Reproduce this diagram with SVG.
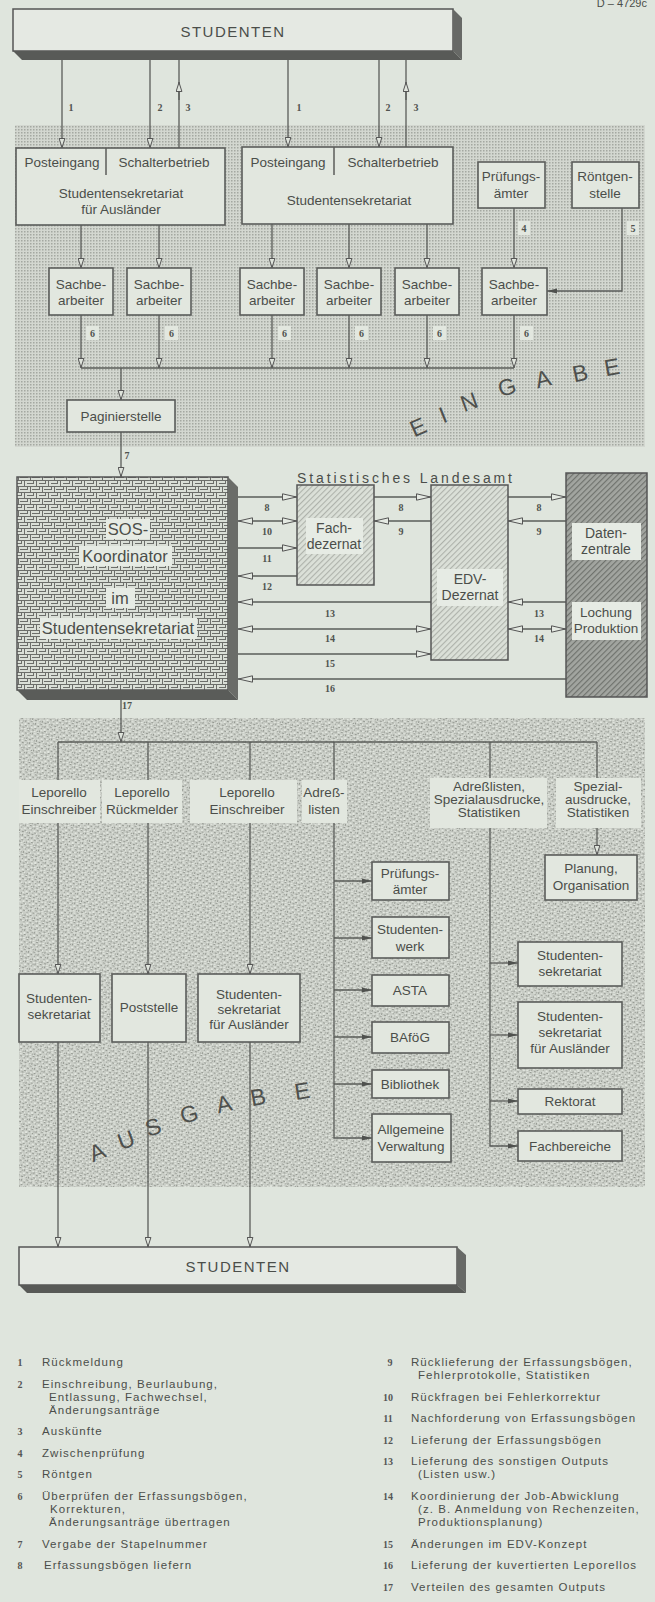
<svg xmlns="http://www.w3.org/2000/svg" width="655" height="1602" viewBox="0 0 655 1602">
<defs>
<style>
text{font-family:"Liberation Sans",Arial,sans-serif;fill:#4b4e4a}
.t{font-size:13.5px;text-anchor:middle}
.tm{font-size:14px;text-anchor:middle}
.big{font-size:16.5px;text-anchor:middle}
.st{font-size:15px;letter-spacing:1.5px;text-anchor:middle}
.n{font-family:"Liberation Serif",serif;font-weight:bold;font-size:10px;text-anchor:middle;fill:#50534f}
.leg{font-size:11.5px;letter-spacing:1.05px}
.ln{font-family:"Liberation Serif",serif;font-weight:bold;font-size:10px;text-anchor:middle;fill:#555}
.huge{font-size:23px;text-anchor:middle;fill:#4e504d}
.bx{fill:#e2e7df;stroke:#5b5d5a;stroke-width:1.6}
.lb{fill:#e2e7df}
.wb{fill:#e6ebe4}
.c{fill:none;stroke:#5a5c59;stroke-width:1.3}
.ca{fill:none;stroke:#5a5c59;stroke-width:1.3;marker-end:url(#a)}
.cb{fill:none;stroke:#5a5c59;stroke-width:1.3;marker-end:url(#b)}
.cbb{fill:none;stroke:#5a5c59;stroke-width:1.3;marker-start:url(#b);marker-end:url(#b)}
.cc{fill:none;stroke:#5a5c59;stroke-width:1.3;marker-end:url(#k)}
</style>
<pattern id="dots" width="3" height="3" patternUnits="userSpaceOnUse"><rect width="3" height="3" fill="#d3d7d0"/><rect width="1.5" height="1.5" fill="#a4a8a1"/></pattern>
<pattern id="stip" width="10" height="10" patternUnits="userSpaceOnUse" patternTransform="rotate(17)">
<rect width="10" height="10" fill="#c9cdc6"/>
<path d="M0 0h2v1h-2zM5 1h1v2h-1zM8 3h2v1h-2zM2 4h1v1h-1zM6 6h2v1h-2zM1 7h1v2h-1zM4 8h2v1h-2zM9 8h1v1h-1zM3 2h1v1h-1z" fill="#959992"/>
<path d="M3 0h2v1h-2zM7 1h2v1h-2zM0 3h2v1h-2zM5 4h2v2h-2zM2 6h2v1h-2zM8 6h1v2h-1zM6 9h2v1h-2zM0 9h2v1h-2z" fill="#e2e6df"/>
</pattern>
<pattern id="maze" width="12" height="12" patternUnits="userSpaceOnUse">
<rect width="12" height="12" fill="#dadfd7"/>
<path d="M0 0.5H12M0 6.5H12M0.5 0V6M6.5 6V12M3 3.5H10M8 9.5H12M0 9.5H4M9.5 1V3.5M3.5 7V9.5" stroke="#6c6e6a" stroke-width="1" fill="none"/>
</pattern>
<pattern id="hatch" width="4" height="4" patternUnits="userSpaceOnUse" patternTransform="rotate(45)">
<rect width="4" height="4" fill="#dbe0d8"/><line x1="0.5" y1="0" x2="0.5" y2="4" stroke="#aeb2ab" stroke-width="1.2"/>
</pattern>
<pattern id="dhatch" width="4" height="4" patternUnits="userSpaceOnUse" patternTransform="rotate(45)">
<rect width="4" height="4" fill="#a2a5a0"/><line x1="0.5" y1="0" x2="0.5" y2="4" stroke="#6f726d" stroke-width="1.3"/>
</pattern>
<marker id="a" viewBox="0 0 10 7" refX="10" refY="3.5" markerWidth="10" markerHeight="7" markerUnits="userSpaceOnUse" orient="auto"><path d="M0.5,0.6 L9.6,3.5 L0.5,6.4 Z" fill="#dfe4dc" stroke="#555" stroke-width="1"/></marker>
<marker id="b" viewBox="0 0 15 8" refX="15" refY="4" markerWidth="15" markerHeight="8" markerUnits="userSpaceOnUse" orient="auto-start-reverse"><path d="M0.5,0.8 L14.5,4 L0.5,7.2 Z" fill="#e4e9e2" stroke="#555" stroke-width="1"/></marker>
<marker id="k" viewBox="0 0 10 6" refX="10" refY="3" markerWidth="10" markerHeight="6" markerUnits="userSpaceOnUse" orient="auto"><path d="M0,0.5 L10,3 L0,5.5 Z" fill="#4f514e"/></marker>
</defs>

<rect width="655" height="1602" fill="#dfe5dd"/>
<text x="647" y="7" font-size="11" text-anchor="end">D – 4729c</text>

<rect id="eingabe-bereich" x="15" y="125" width="630" height="322" fill="url(#dots)"/>
<rect id="ausgabe-bereich" x="19" y="718" width="626" height="469" fill="url(#stip)"/>

<g id="connectors">
<path class="ca" d="M62,60V148"/>
<path class="ca" d="M150,60V148"/>
<path class="c" d="M179,148V60"/><path class="ca" d="M179,100V82"/>
<path class="ca" d="M288,60V147"/>
<path class="ca" d="M379,60V147"/>
<path class="c" d="M406,147V60"/><path class="ca" d="M406,100V82"/>
<path class="ca" d="M81,225V268"/>
<path class="ca" d="M159,225V268"/>
<path class="ca" d="M272,224V268"/>
<path class="ca" d="M349,224V268"/>
<path class="ca" d="M427,224V268"/>
<path class="ca" d="M514,208V268"/>
<path class="cc" d="M622,208V291H547"/>
<path class="ca" d="M81,315V368"/>
<path class="ca" d="M159,315V368"/>
<path class="ca" d="M272,315V368"/>
<path class="ca" d="M349,315V368"/>
<path class="ca" d="M427,315V368"/>
<path class="ca" d="M514,315V368"/>
<path class="c" d="M81,368H514"/>
<path class="ca" d="M121,368V400"/>
<path class="ca" d="M121,432V477"/>
<path class="cb" d="M238,497H297"/>
<path class="cbb" d="M238,521H297"/>
<path class="cb" d="M238,548H297"/>
<path class="cb" d="M297,576H238"/>
<path class="cb" d="M374,497H431"/>
<path class="cb" d="M431,521H374"/>
<path class="cb" d="M508,497H566"/>
<path class="cb" d="M566,521H508"/>
<path class="cb" d="M566,602H508"/>
<path class="cbb" d="M508,629H566"/>
<path class="cb" d="M431,602H238"/>
<path class="cbb" d="M238,629H431"/>
<path class="cb" d="M238,654H431"/>
<path class="cb" d="M566,679H238"/>
<path class="ca" d="M121,700V742"/>
<path class="c" d="M58,742H597"/>
<path class="ca" d="M58,742V974"/>
<path class="ca" d="M148,742V974"/>
<path class="ca" d="M250,742V974"/>
<path class="cc" d="M334,742V1138H372"/>
<path class="cc" d="M334,881H372"/>
<path class="cc" d="M334,938H372"/>
<path class="cc" d="M334,990H372"/>
<path class="cc" d="M334,1037H372"/>
<path class="cc" d="M334,1084H372"/>
<path class="cc" d="M490,742V1146H518"/>
<path class="cc" d="M490,963H518"/>
<path class="cc" d="M490,1035H518"/>
<path class="cc" d="M490,1101H518"/>
<path class="ca" d="M597,742V855"/>
<path class="ca" d="M58,1042V1247"/>
<path class="ca" d="M148,1042V1247"/>
<path class="ca" d="M250,1042V1247"/>
</g>

<g id="connector-labels">
<text class="n" x="71" y="111">1</text>
<text class="n" x="160" y="111">2</text>
<text class="n" x="188" y="111">3</text>
<text class="n" x="299" y="111">1</text>
<text class="n" x="388" y="111">2</text>
<text class="n" x="416" y="111">3</text>
<rect class="lb" x="518" y="221" width="12" height="14"/><text class="n" x="524" y="232">4</text>
<rect class="lb" x="627" y="221" width="12" height="14"/><text class="n" x="633" y="232">5</text>
<rect class="lb" x="86" y="326" width="13" height="14"/><text class="n" x="92.5" y="337">6</text>
<rect class="lb" x="165" y="326" width="13" height="14"/><text class="n" x="171.5" y="337">6</text>
<rect class="lb" x="278" y="326" width="13" height="14"/><text class="n" x="284.5" y="337">6</text>
<rect class="lb" x="355" y="326" width="13" height="14"/><text class="n" x="361.5" y="337">6</text>
<rect class="lb" x="433" y="326" width="13" height="14"/><text class="n" x="439.5" y="337">6</text>
<rect class="lb" x="520" y="326" width="13" height="14"/><text class="n" x="526.5" y="337">6</text>
<text class="n" x="127" y="459">7</text>
<text class="n" x="267" y="511">8</text>
<text class="n" x="267" y="535">10</text>
<text class="n" x="267" y="562">11</text>
<text class="n" x="267" y="590">12</text>
<text class="n" x="401" y="511">8</text>
<text class="n" x="401" y="535">9</text>
<text class="n" x="539" y="511">8</text>
<text class="n" x="539" y="535">9</text>
<text class="n" x="539" y="617">13</text>
<text class="n" x="539" y="642">14</text>
<text class="n" x="330" y="617">13</text>
<text class="n" x="330" y="642">14</text>
<text class="n" x="330" y="667">15</text>
<text class="n" x="330" y="692">16</text>
<text class="n" x="127" y="709">17</text>
</g>

<g id="studenten-oben">
<rect x="13" y="9" width="440" height="42" fill="#e5e9e3" stroke="#555" stroke-width="1.5"/>
<polygon points="453,9 462,18 462,60 453,51" fill="#676966"/>
<polygon points="13,51 453,51 462,60 22,60" fill="#585a57"/>
<text class="st" x="233" y="37">STUDENTEN</text>
</g>

<g id="sekretariat-auslaender-eingang">
<rect class="bx" x="16" y="148" width="209" height="77"/>
<line x1="106" y1="148" x2="106" y2="175" stroke="#5b5d5a" stroke-width="1.5"/>
<text class="t" x="62" y="167">Posteingang</text>
<text class="t" x="164" y="167">Schalterbetrieb</text>
<text class="t" x="121" y="198">Studentensekretariat</text>
<text class="t" x="121" y="214">für Ausländer</text>
</g>
<g id="sekretariat-eingang">
<rect class="bx" x="242" y="147" width="211" height="77"/>
<line x1="334" y1="147" x2="334" y2="175" stroke="#5b5d5a" stroke-width="1.5"/>
<text class="t" x="288" y="167">Posteingang</text>
<text class="t" x="393" y="167">Schalterbetrieb</text>
<text class="t" x="349" y="205">Studentensekretariat</text>
</g>
<g id="pruefungsaemter-eingang">
<rect class="bx" x="478" y="162" width="67" height="46"/>
<text class="t" x="511" y="181">Prüfungs-</text>
<text class="t" x="511" y="198">ämter</text>
</g>
<g id="roentgenstelle">
<rect class="bx" x="572" y="162" width="67" height="46"/>
<text class="t" x="605" y="181">Röntgen-</text>
<text class="t" x="605" y="198">stelle</text>
</g>
<g id="sachbearbeiter-1"><rect class="bx" x="49" y="268" width="64" height="47"/><text class="t" x="81" y="289">Sachbe-</text><text class="t" x="81" y="305">arbeiter</text></g>
<g id="sachbearbeiter-2"><rect class="bx" x="127" y="268" width="64" height="47"/><text class="t" x="159" y="289">Sachbe-</text><text class="t" x="159" y="305">arbeiter</text></g>
<g id="sachbearbeiter-3"><rect class="bx" x="240" y="268" width="64" height="47"/><text class="t" x="272" y="289">Sachbe-</text><text class="t" x="272" y="305">arbeiter</text></g>
<g id="sachbearbeiter-4"><rect class="bx" x="317" y="268" width="64" height="47"/><text class="t" x="349" y="289">Sachbe-</text><text class="t" x="349" y="305">arbeiter</text></g>
<g id="sachbearbeiter-5"><rect class="bx" x="395" y="268" width="64" height="47"/><text class="t" x="427" y="289">Sachbe-</text><text class="t" x="427" y="305">arbeiter</text></g>
<g id="sachbearbeiter-6"><rect class="bx" x="482" y="268" width="65" height="47"/><text class="t" x="514" y="289">Sachbe-</text><text class="t" x="514" y="305">arbeiter</text></g>
<g id="paginierstelle"><rect class="bx" x="67" y="400" width="108" height="32"/><text class="t" x="121" y="421">Paginierstelle</text></g>

<g id="eingabe-schrift">
<text class="huge" x="418" y="435" transform="rotate(-24 418 427)">E</text>
<text class="huge" x="443" y="423" transform="rotate(-22 443 415)">I</text>
<text class="huge" x="469" y="410" transform="rotate(-20 469 402)">N</text>
<text class="huge" x="507" y="395" transform="rotate(-17 507 387)">G</text>
<text class="huge" x="543" y="387" transform="rotate(-14 543 379)">A</text>
<text class="huge" x="580" y="381" transform="rotate(-12 580 373)">B</text>
<text class="huge" x="612" y="375" transform="rotate(-10 612 367)">E</text>
</g>

<g id="sos-koordinator">
<rect x="17" y="477" width="211" height="213" fill="url(#maze)" stroke="#555" stroke-width="1.5"/>
<polygon points="228,477 238,487 238,700 228,690" fill="#6a6c68"/>
<polygon points="17,690 228,690 238,700 27,700" fill="#5a5c59"/>
<rect class="wb" x="106" y="519" width="44" height="20"/>
<rect class="wb" x="79" y="546" width="93" height="20"/>
<rect class="wb" x="106" y="588" width="29" height="20"/>
<rect class="wb" x="40" y="618" width="157" height="21"/>
<text class="big" x="128" y="535">SOS-</text>
<text class="big" x="125" y="562">Koordinator</text>
<text class="big" x="120" y="604">im</text>
<text class="big" x="118" y="634">Studentensekretariat</text>
</g>

<text x="297" y="483" font-size="14" textLength="215" lengthAdjust="spacing">Statistisches Landesamt</text>

<g id="fachdezernat">
<rect x="297" y="485" width="77" height="100" fill="url(#hatch)" stroke="#555" stroke-width="1.5"/>
<rect class="wb" x="306" y="518" width="57" height="36"/>
<text class="tm" x="334" y="533">Fach-</text>
<text class="tm" x="334" y="549">dezernat</text>
</g>
<g id="edv-dezernat">
<rect x="431" y="485" width="77" height="175" fill="url(#hatch)" stroke="#555" stroke-width="1.5"/>
<rect class="wb" x="437" y="569" width="66" height="37"/>
<text class="tm" x="470" y="584">EDV-</text>
<text class="tm" x="470" y="600">Dezernat</text>
</g>
<g id="datenzentrale">
<rect x="566" y="473" width="81" height="224" fill="url(#dhatch)" stroke="#555" stroke-width="1.5"/>
<rect class="wb" x="572" y="523" width="69" height="37"/>
<rect class="wb" x="572" y="602" width="69" height="38"/>
<text class="tm" x="606" y="538">Daten-</text>
<text class="tm" x="606" y="554">zentrale</text>
<text class="t" x="606" y="617">Lochung</text>
<text class="t" x="606" y="633">Produktion</text>
</g>

<g id="ausgabe-leporello-einschreiber-1"><rect class="lb" x="19" y="780" width="81" height="43"/><text class="t" x="59" y="797">Leporello</text><text class="t" x="59" y="814">Einschreiber</text></g>
<g id="ausgabe-leporello-rueckmelder"><rect class="lb" x="102" y="780" width="80" height="43"/><text class="t" x="142" y="797">Leporello</text><text class="t" x="142" y="814">Rückmelder</text></g>
<g id="ausgabe-leporello-einschreiber-2"><rect class="lb" x="190" y="780" width="107" height="43"/><text class="t" x="247" y="797">Leporello</text><text class="t" x="247" y="814">Einschreiber</text></g>
<g id="ausgabe-adresslisten"><rect class="lb" x="302" y="780" width="45" height="43"/><text class="t" x="324" y="797">Adreß-</text><text class="t" x="324" y="814">listen</text></g>
<g id="ausgabe-adresslisten-spezial"><rect class="lb" x="430" y="778" width="117" height="50"/><text class="t" x="489" y="791">Adreßlisten,</text><text class="t" x="489" y="804">Spezialausdrucke,</text><text class="t" x="489" y="817">Statistiken</text></g>
<g id="ausgabe-spezialausdrucke"><rect class="lb" x="556" y="778" width="85" height="50"/><text class="t" x="598" y="791">Spezial-</text><text class="t" x="598" y="804">ausdrucke,</text><text class="t" x="598" y="817">Statistiken</text></g>

<g id="out-pruefungsaemter"><rect class="bx" x="372" y="862" width="77" height="38"/><text class="t" x="410" y="878">Prüfungs-</text><text class="t" x="410" y="894">ämter</text></g>
<g id="out-studentenwerk"><rect class="bx" x="372" y="917" width="77" height="41"/><text class="t" x="410" y="934">Studenten-</text><text class="t" x="410" y="951">werk</text></g>
<g id="out-asta"><rect class="bx" x="372" y="975" width="77" height="31"/><text class="t" x="410" y="995">ASTA</text></g>
<g id="out-bafoeg"><rect class="bx" x="372" y="1022" width="77" height="31"/><text class="t" x="410" y="1042">BAföG</text></g>
<g id="out-bibliothek"><rect class="bx" x="372" y="1070" width="77" height="28"/><text class="t" x="410" y="1089">Bibliothek</text></g>
<g id="out-allgemeine-verwaltung"><rect class="bx" x="372" y="1114" width="79" height="48"/><text class="t" x="411" y="1134">Allgemeine</text><text class="t" x="411" y="1151">Verwaltung</text></g>
<g id="out-planung"><rect class="bx" x="545" y="855" width="92" height="45"/><text class="t" x="591" y="873">Planung,</text><text class="t" x="591" y="890">Organisation</text></g>
<g id="out-studentensekretariat-r"><rect class="bx" x="518" y="942" width="104" height="44"/><text class="t" x="570" y="960">Studenten-</text><text class="t" x="570" y="976">sekretariat</text></g>
<g id="out-sekretariat-auslaender-r"><rect class="bx" x="518" y="1002" width="104" height="66"/><text class="t" x="570" y="1021">Studenten-</text><text class="t" x="570" y="1037">sekretariat</text><text class="t" x="570" y="1053">für Ausländer</text></g>
<g id="out-rektorat"><rect class="bx" x="518" y="1089" width="104" height="25"/><text class="t" x="570" y="1106">Rektorat</text></g>
<g id="out-fachbereiche"><rect class="bx" x="518" y="1131" width="104" height="30"/><text class="t" x="570" y="1151">Fachbereiche</text></g>

<g id="out-studentensekretariat-l"><rect class="bx" x="19" y="974" width="81" height="68"/><text class="t" x="59" y="1003">Studenten-</text><text class="t" x="59" y="1019">sekretariat</text></g>
<g id="out-poststelle"><rect class="bx" x="112" y="974" width="74" height="68"/><text class="t" x="149" y="1012">Poststelle</text></g>
<g id="out-sekretariat-auslaender-l"><rect class="bx" x="198" y="974" width="102" height="68"/><text class="t" x="249" y="999">Studenten-</text><text class="t" x="249" y="1014">sekretariat</text><text class="t" x="249" y="1029">für Ausländer</text></g>

<g id="ausgabe-schrift">
<text class="huge" x="97" y="1160" transform="rotate(-22 97 1152)">A</text>
<text class="huge" x="126" y="1148" transform="rotate(-20 126 1140)">U</text>
<text class="huge" x="153" y="1135" transform="rotate(-18 153 1127)">S</text>
<text class="huge" x="189" y="1122" transform="rotate(-15 189 1114)">G</text>
<text class="huge" x="224" y="1112" transform="rotate(-13 224 1104)">A</text>
<text class="huge" x="258" y="1105" transform="rotate(-11 258 1097)">B</text>
<text class="huge" x="302" y="1099" transform="rotate(-9 302 1091)">E</text>
</g>

<g id="studenten-unten">
<rect x="19" y="1247" width="438" height="38" fill="#e5e9e3" stroke="#555" stroke-width="1.5"/>
<polygon points="457,1247 466,1255 466,1293 457,1285" fill="#676966"/>
<polygon points="19,1285 457,1285 466,1293 27,1293" fill="#585a57"/>
<text class="st" x="238" y="1272">STUDENTEN</text>
</g>

<g id="legende">
<text class="ln" x="20" y="1366">1</text><text class="leg" x="42" y="1366">Rückmeldung</text>
<text class="ln" x="20" y="1388">2</text><text class="leg" x="42" y="1388">Einschreibung, Beurlaubung,</text>
<text class="leg" x="49" y="1401">Entlassung, Fachwechsel,</text>
<text class="leg" x="49" y="1414">Änderungsanträge</text>
<text class="ln" x="20" y="1435">3</text><text class="leg" x="42" y="1435">Auskünfte</text>
<text class="ln" x="20" y="1457">4</text><text class="leg" x="42" y="1457">Zwischenprüfung</text>
<text class="ln" x="20" y="1478">5</text><text class="leg" x="42" y="1478">Röntgen</text>
<text class="ln" x="20" y="1500">6</text><text class="leg" x="42" y="1500">Überprüfen der Erfassungsbögen,</text>
<text class="leg" x="50" y="1513">Korrekturen,</text>
<text class="leg" x="49" y="1526">Änderungsanträge übertragen</text>
<text class="ln" x="20" y="1548">7</text><text class="leg" x="42" y="1548">Vergabe der Stapelnummer</text>
<text class="ln" x="20" y="1569">8</text><text class="leg" x="44" y="1569">Erfassungsbögen liefern</text>

<text class="ln" x="390" y="1366">9</text><text class="leg" x="411" y="1366">Rücklieferung der Erfassungsbögen,</text>
<text class="leg" x="418" y="1379">Fehlerprotokolle, Statistiken</text>
<text class="ln" x="388" y="1401">10</text><text class="leg" x="411" y="1401">Rückfragen bei Fehlerkorrektur</text>
<text class="ln" x="388" y="1422">11</text><text class="leg" x="411" y="1422">Nachforderung von Erfassungsbögen</text>
<text class="ln" x="388" y="1444">12</text><text class="leg" x="411" y="1444">Lieferung der Erfassungsbögen</text>
<text class="ln" x="388" y="1465">13</text><text class="leg" x="411" y="1465">Lieferung des sonstigen Outputs</text>
<text class="leg" x="418" y="1478">(Listen usw.)</text>
<text class="ln" x="388" y="1500">14</text><text class="leg" x="411" y="1500">Koordinierung der Job-Abwicklung</text>
<text class="leg" x="418" y="1513">(z. B. Anmeldung von Rechenzeiten,</text>
<text class="leg" x="418" y="1526">Produktionsplanung)</text>
<text class="ln" x="388" y="1548">15</text><text class="leg" x="411" y="1548">Änderungen im EDV-Konzept</text>
<text class="ln" x="388" y="1569">16</text><text class="leg" x="411" y="1569">Lieferung der kuvertierten Leporellos</text>
<text class="ln" x="388" y="1591">17</text><text class="leg" x="411" y="1591">Verteilen des gesamten Outputs</text>
</g>
</svg>
